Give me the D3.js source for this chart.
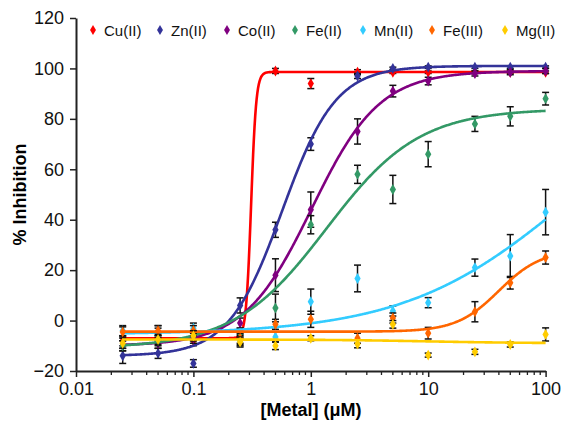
<!DOCTYPE html>
<html>
<head>
<meta charset="utf-8">
<script src="https://cdn.jsdelivr.net/npm/d3@7"></script>
<style>
  body { margin: 0; background: #fff; }
  svg { display: block; font-family: 'Liberation Sans', Arial, sans-serif; }
</style>
</head>
<body>
<div id="chart"></div>
<script>
// concentrations used for every metal (uM)
const conc = [0.025, 0.05, 0.1, 0.25, 0.5, 1, 2.5, 5, 10, 25, 50, 100]

const metals = ['Cu(II)', 'Zn(II)', 'Co(II)', 'Fe(II)', 'Mn(II)', 'Fe(III)', 'Mg(II)']
const colors = ['#ff0000', '#333399', '#800080', '#339966', '#33ccff', '#ff6600', '#ffcc00']

// % inhibition, mean of replicates
const cuValues = [-8, -5, -8, -7.5, 99, 94, 98.5, 98.5, 98.5, 98.5, 98.5, 98.5]
const znValues = [-14, -13, -17, 6, 36, 70, 97, 100, 100.5, 100.5, 100.5, 100.5]
const coValues = [-10, -9, -7, -1, 18, 44, 75, 91, 95, 98, 98.5, 99]
const fe2Values = [-10, -8, -6, -5, 5, 38, 58, 52, 66, 78, 81, 88]
const mnValues = [-4, -5, -3, -8, -6.5, 7.5, 16.7, 3.8, 7.1, 21, 25.6, 43]
const fe3Values = [-4.5, -4, -4, -7, -1.5, 0.5, -7, 1, -5, 3.5, 15, 25]
const mgValues = [-9, -7.5, -6, -8.5, -10, -7, -9.3, -1.5, -13.7, -12.4, -9.5, -5.5]

// error bars (+/-)
const cuErrors = [2, 3, 2, 2, 1, 2, 1, 0.5, 0.5, 0.5, 0.5, 0.5]
const znErrors = [3, 2, 1.5, 3, 3, 2.5, 1, 0.5, 0.5, 0.5, 0.5, 0.5]
const coErrors = [2, 2, 2, 2, 6.5, 7, 5, 2.3, 1.5, 1, 1, 1]
const fe2Errors = [2, 2, 2, 2, 5.5, 3.6, 3.6, 5.6, 5, 3, 3.8, 2.5]
const mnErrors = [2, 2, 2, 2, 2, 5, 5.3, 2, 2, 3.4, 8.5, 9]
const fe3Errors = [2, 2, 2, 2, 2, 3.2, 2, 2, 2.3, 4, 2.5, 2.6]
const mgErrors = [2, 2, 2, 2, 1.5, 1, 1.5, 1.5, 0.8, 1, 1, 2.6]

// fitted dose-response curves (bottom, top, EC50, Hill slope)
const fitBottom = [-7, -14, -10, -11, -5.5, -4.4, -7.5]
const fitTop = [98.6, 101, 99, 84, 100, 28, -9]
const fitEC50 = [0.31, 0.57, 1.02, 1.36, 155, 40, 10]
const fitHill = [20, 1.9, 1.5, 1.1, 0.62, 2.4, 1]

const yTicks = [-20, 0, 20, 40, 60, 80, 100, 120]
const xTicks = [0.01, 0.1, 1, 10, 100]

const allValues = [cuValues, znValues, coValues, fe2Values, mnValues, fe3Values, mgValues]
const allErrors = [cuErrors, znErrors, coErrors, fe2Errors, mnErrors, fe3Errors, mgErrors]

const width = 563
const height = 428
const margin = { top: 18, right: 17, bottom: 57, left: 76 }

const svg = d3.select('#chart').append('svg')
  .attr('width', width)
  .attr('height', height)

const x = d3.scaleLog()
  .domain([0.01, 100])
  .range([margin.left, width - margin.right - 0.4])
const y = d3.scaleLinear()
  .domain([-20, 120])
  .range([height - margin.bottom, margin.top])

// axes
const xAxis = svg.append('g')
  .attr('transform', `translate(0,${y(-20)})`)
  .call(d3.axisBottom(x).tickValues(xTicks).tickFormat(d => String(d)).tickSize(6).tickSizeOuter(0).tickPadding(5))
const minor = []
for (const dec of [0.01, 0.1, 1, 10]) for (let k = 2; k < 10; k++) minor.push(dec * k)
xAxis.selectAll('.minor')
  .data(minor)
  .join('line')
  .attr('class', 'minor')
  .attr('x1', d => x(d)).attr('x2', d => x(d))
  .attr('y1', 0).attr('y2', 4)
  .attr('stroke', '#222').attr('stroke-width', 1.3)

const yAxis = svg.append('g')
  .attr('transform', `translate(${margin.left},0)`)
  .call(d3.axisLeft(y).tickValues(yTicks).tickSize(6).tickSizeOuter(0).tickPadding(6))

for (const ax of [xAxis, yAxis]) {
  ax.select('.domain').attr('stroke', '#222').attr('stroke-width', 2)
  ax.selectAll('.tick line').attr('stroke', '#222').attr('stroke-width', 1.5)
  ax.selectAll('.tick text')
    .attr('fill', '#111')
    .style('font-size', '18px')
    .style('font-family', "'Liberation Sans', Arial, sans-serif")
}

svg.append('text')
  .attr('x', (margin.left + width - margin.right) / 2)
  .attr('y', 416)
  .attr('text-anchor', 'middle')
  .style('font-size', '18px')
  .style('font-weight', 'bold')
  .text('[Metal] (μM)')

svg.append('text')
  .attr('transform', `translate(26,${(margin.top + height - margin.bottom) / 2}) rotate(-90)`)
  .attr('text-anchor', 'middle')
  .style('font-size', '18px')
  .style('font-weight', 'bold')
  .text('% Inhibition')

// curves, sampled on a log grid between the first and last concentration
const grid = d3.range(0, 601).map(i => Math.pow(10, Math.log10(0.025) + i / 600 * (Math.log10(100) - Math.log10(0.025))))
const line = d3.line().x(d => x(d[0])).y(d => y(d[1]))
const diamond = d3.symbol().type(d3.symbolDiamond)

metals.forEach((m, s) => {
  const g = svg.append('g')
  const pts = conc.map((c, i) => ({ c, v: allValues[s][i], e: allErrors[s][i] }))

  // error bars
  const eb = g.append('g').attr('stroke', '#111').attr('stroke-width', 1.5)
  eb.selectAll('line.v').data(pts).join('line').attr('class', 'v')
    .attr('x1', d => x(d.c)).attr('x2', d => x(d.c))
    .attr('y1', d => y(d.v - d.e)).attr('y2', d => y(d.v + d.e))
  eb.selectAll('line.t').data(pts).join('line').attr('class', 't')
    .attr('x1', d => x(d.c) - 3.5).attr('x2', d => x(d.c) + 3.5)
    .attr('y1', d => y(d.v + d.e)).attr('y2', d => y(d.v + d.e))
  eb.selectAll('line.b').data(pts).join('line').attr('class', 'b')
    .attr('x1', d => x(d.c) - 3.5).attr('x2', d => x(d.c) + 3.5)
    .attr('y1', d => y(d.v - d.e)).attr('y2', d => y(d.v - d.e))

  // fitted curve
  const fit = c => fitBottom[s] + (fitTop[s] - fitBottom[s]) / (1 + Math.pow(fitEC50[s] / c, fitHill[s]))
  g.append('path')
    .datum(grid.map(c => [c, fit(c)]))
    .attr('d', line)
    .attr('fill', 'none')
    .attr('stroke', colors[s])
    .attr('stroke-width', 2.6)

  // markers
  g.selectAll('path.pt').data(pts).join('path').attr('class', 'pt')
    .attr('transform', d => `translate(${x(d.c)},${y(d.v)})`)
    .attr('d', diamond.size(34))
    .attr('fill', colors[s])
})

// legend
const legendX = [93, 160, 227, 295, 363, 432, 505]
const legend = svg.append('g')
legend.selectAll('path')
  .data(metals)
  .join('path')
  .attr('transform', (d, i) => `translate(${legendX[i]},30)`)
  .attr('d', diamond.size(30))
  .attr('fill', (d, i) => colors[i])
legend.selectAll('text')
  .data(metals)
  .join('text')
  .attr('x', (d, i) => legendX[i] + 11)
  .attr('y', 35.5)
  .style('font-size', '15px')
  .attr('fill', '#111')
  .text(d => d)
</script>
</body>
</html>
